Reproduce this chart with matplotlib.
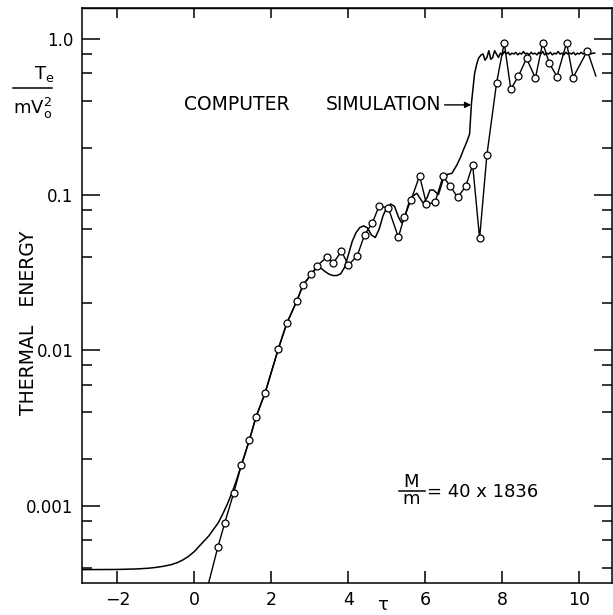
import matplotlib
matplotlib.use("Agg")
import matplotlib.pyplot as plt
from matplotlib.lines import Line2D

# ---------------- data ----------------
# computer simulation (smooth curve, no markers)
sim_tau = [-2.92, -2.0, -1.5, -1.2, -1.0, -0.8, -0.6, -0.45, -0.3, -0.15, 0.0, 0.12, 0.25,
           0.37, 0.5, 0.62, 0.72, 0.85, 0.98, 1.1, 1.19, 1.3, 1.43, 1.60, 1.84, 2.18, 2.40,
           2.66, 2.82, 3.04, 3.18,
           3.3, 3.4, 3.5, 3.6, 3.7, 3.8, 3.9, 4.0, 4.1, 4.2, 4.3, 4.4, 4.5, 4.6, 4.7, 4.8,
           4.9, 5.0, 5.1, 5.2, 5.3, 5.38, 5.45, 5.55, 5.65, 5.78, 5.87, 5.95, 6.05, 6.12,
           6.21, 6.34, 6.47, 6.58, 6.69, 6.82, 6.92, 6.99, 7.08, 7.15, 7.2, 7.28, 7.33, 7.38,
           7.45, 7.50, 7.55, 7.60, 7.65, 7.70, 7.75, 7.80, 7.85, 7.90, 7.95, 8.00, 8.05,
           8.10, 8.15, 8.20, 8.25, 8.30, 8.35, 8.40, 8.45, 8.50, 8.55, 8.60, 8.65, 8.70,
           8.75, 8.80, 8.85, 8.90, 8.95, 9.00, 9.05, 9.10, 9.15, 9.20, 9.25, 9.30, 9.35,
           9.40, 9.45, 9.50, 9.55, 9.60, 9.65, 9.70, 9.75, 9.80, 9.85, 9.90, 9.95, 10.00,
           10.05, 10.10, 10.15, 10.20, 10.25, 10.30, 10.35, 10.40]
sim_val = [3.90e-4, 3.91e-4, 3.94e-4, 3.98e-4, 4.03e-4, 4.1e-4, 4.2e-4, 4.32e-4, 4.5e-4,
           4.75e-4, 5.1e-4, 5.5e-4, 5.95e-4, 6.4e-4, 7.1e-4, 7.8e-4, 8.7e-4, 1.02e-3,
           1.22e-3, 1.48e-3, 1.74e-3, 2.1e-3, 2.66e-3, 3.72e-3, 5.35e-3, 0.0102, 0.0149,
           0.0207, 0.0262, 0.0308, 0.034,
           0.0335, 0.032, 0.0308, 0.0302, 0.0302, 0.031, 0.034, 0.041, 0.050, 0.057, 0.0615,
           0.063, 0.061, 0.055, 0.053, 0.060, 0.073, 0.083, 0.087, 0.084, 0.072, 0.066, 0.069,
           0.085, 0.097, 0.102, 0.094, 0.088, 0.096, 0.107, 0.107, 0.100, 0.127, 0.135, 0.137,
           0.155, 0.175, 0.194, 0.219, 0.245, 0.39, 0.60, 0.68, 0.75,
           0.79, 0.80, 0.73, 0.76, 0.84, 0.74, 0.76, 0.84, 0.80, 0.76, 0.81, 0.79, 0.83,
           0.80, 0.82, 0.79, 0.81, 0.80, 0.82, 0.79, 0.81, 0.80, 0.83, 0.80, 0.81, 0.79,
           0.82, 0.80, 0.81, 0.79, 0.82, 0.80, 0.83, 0.79, 0.81, 0.80, 0.82, 0.79, 0.81,
           0.80, 0.83, 0.80, 0.81, 0.79, 0.82, 0.80, 0.81, 0.80, 0.82, 0.79, 0.81, 0.80,
           0.82, 0.80, 0.81, 0.80, 0.82, 0.80, 0.81, 0.81]

# theory curve (open circles joined by straight segments)
pts_tau = [0.2, 0.61, 0.79, 1.02, 1.22, 1.43, 1.60, 1.84, 2.18, 2.40, 2.66, 2.82, 3.04, 3.18,
           3.44, 3.61, 3.82, 4.00, 4.23, 4.42, 4.62, 4.80, 5.04, 5.30, 5.45, 5.63, 5.85,
           6.03, 6.25, 6.46, 6.65, 6.84, 7.05, 7.23, 7.41, 7.60, 7.85, 8.05, 8.22, 8.42,
           8.63, 8.86, 9.05, 9.22, 9.42, 9.67, 9.84, 10.21, 10.43]
pts_val = [2.2e-4, 5.45e-4, 7.8e-4, 1.21e-3, 1.83e-3, 2.66e-3, 3.72e-3, 5.35e-3, 0.0102,
           0.0149, 0.0207, 0.0262, 0.0308, 0.0348, 0.0396, 0.0363, 0.0433, 0.0353, 0.0404,
           0.0551, 0.0655, 0.0846, 0.0818, 0.0532, 0.0716, 0.0925, 0.132, 0.087, 0.089,
           0.131, 0.113, 0.096, 0.113, 0.155, 0.0524, 0.18, 0.52, 0.946, 0.475, 0.578,
           0.75, 0.56, 0.946, 0.70, 0.573, 0.946, 0.565, 0.84, 0.578]

x_ticks = [-2, 0, 2, 4, 6, 8, 10]
x_labels = ["\u22122", "0", "2", "4", "6", "8", "10"]
y_ticks = [1e-3, 1e-2, 1e-1, 1.0]
y_labels = ["0.001", "0.01", "0.1", "1.0"]
y_minor = [4e-4, 6e-4, 8e-4, 2e-3, 4e-3, 6e-3, 8e-3, 2e-2, 4e-2, 6e-2, 8e-2,
           0.2, 0.4, 0.6, 0.8]

# ---------------- figure ----------------
W, H = 613, 615
fig = plt.figure(figsize=(W / 100, H / 100), dpi=100)
fig.patch.set_facecolor("white")

def fx(px):
    return px / W

def fy(py):
    return 1 - py / H

ax = fig.add_axes([fx(82), fy(583), (612 - 82) / W, (583 - 8) / H])
ax.set_yscale("log")
ax.set_xlim(-2.92, 10.85)
ax.set_ylim(3.2e-4, 1.58)

ax.plot(sim_tau, sim_val, color="black", lw=1.1, solid_joinstyle="round")
ax.plot(pts_tau, pts_val, color="black", lw=1.0, marker="o", ms=5,
        mfc="white", mec="black", mew=0.9, markevery=list(range(1, len(pts_tau) - 1)))

ax.set_xticks(x_ticks)
ax.set_xticklabels(x_labels)
ax.set_yticks(y_ticks)
ax.set_yticklabels(y_labels)
ax.set_yticks(y_minor, minor=True)
ax.yaxis.set_minor_formatter(matplotlib.ticker.NullFormatter())
ax.xaxis.set_minor_locator(matplotlib.ticker.NullLocator())

ax.tick_params(axis="y", which="major", direction="in", length=13, width=1.1,
               left=True, right=True, labelsize=12, pad=6)
ax.tick_params(axis="y", which="minor", direction="in", length=7, width=1.1,
               left=True, right=True)
ax.tick_params(axis="x", which="major", direction="in", length=9, width=1.1,
               bottom=True, top=False, labelsize=12.5, pad=6)

sec = ax.secondary_xaxis("top")
sec.set_xticks(x_ticks)
sec.tick_params(axis="x", direction="in", length=7, width=1.1, labeltop=False)
sec.spines["top"].set_linewidth(1.0)

for s in ax.spines.values():
    s.set_linewidth(1.1)

# annotation: computer simulation
fig.text(fx(184), fy(105), "COMPUTER", ha="left", va="center", fontsize=13.5)
fig.text(fx(441), fy(105), "SIMULATION", ha="right", va="center", fontsize=13.5)
ax.annotate("", xy=(7.19, 0.377), xytext=(6.50, 0.377),
            arrowprops=dict(arrowstyle="-|>", lw=1.0, color="black",
                            mutation_scale=9, shrinkA=0, shrinkB=0))

# mass ratio
fig.text(fx(411), fy(482), "M", ha="center", va="center", fontsize=13)
fig.add_artist(Line2D([fx(399), fx(425)], [fy(491), fy(491)], color="black", lw=1.1))
fig.text(fx(411), fy(499), "m", ha="center", va="center", fontsize=13)
fig.text(fx(427), fy(492), "= 40 x 1836", ha="left", va="center", fontsize=13)

# y axis label
fig.text(fx(29), fy(323), "THERMAL   ENERGY", rotation=90, ha="center", va="center",
         fontsize=13.5)
fig.text(fx(44), fy(74), r"$\mathregular{T_e}$", ha="center", va="center", fontsize=13)
fig.add_artist(Line2D([fx(13), fx(52)], [fy(88), fy(88)], color="black", lw=1.1))
fig.text(fx(33), fy(108), r"$\mathregular{mV_o^2}$", ha="center", va="center", fontsize=13)

# x axis label
fig.text(fx(383), fy(614), "\u03c4", ha="center", va="bottom", fontsize=13)

fig.savefig("out.png", dpi=100, facecolor="white")
